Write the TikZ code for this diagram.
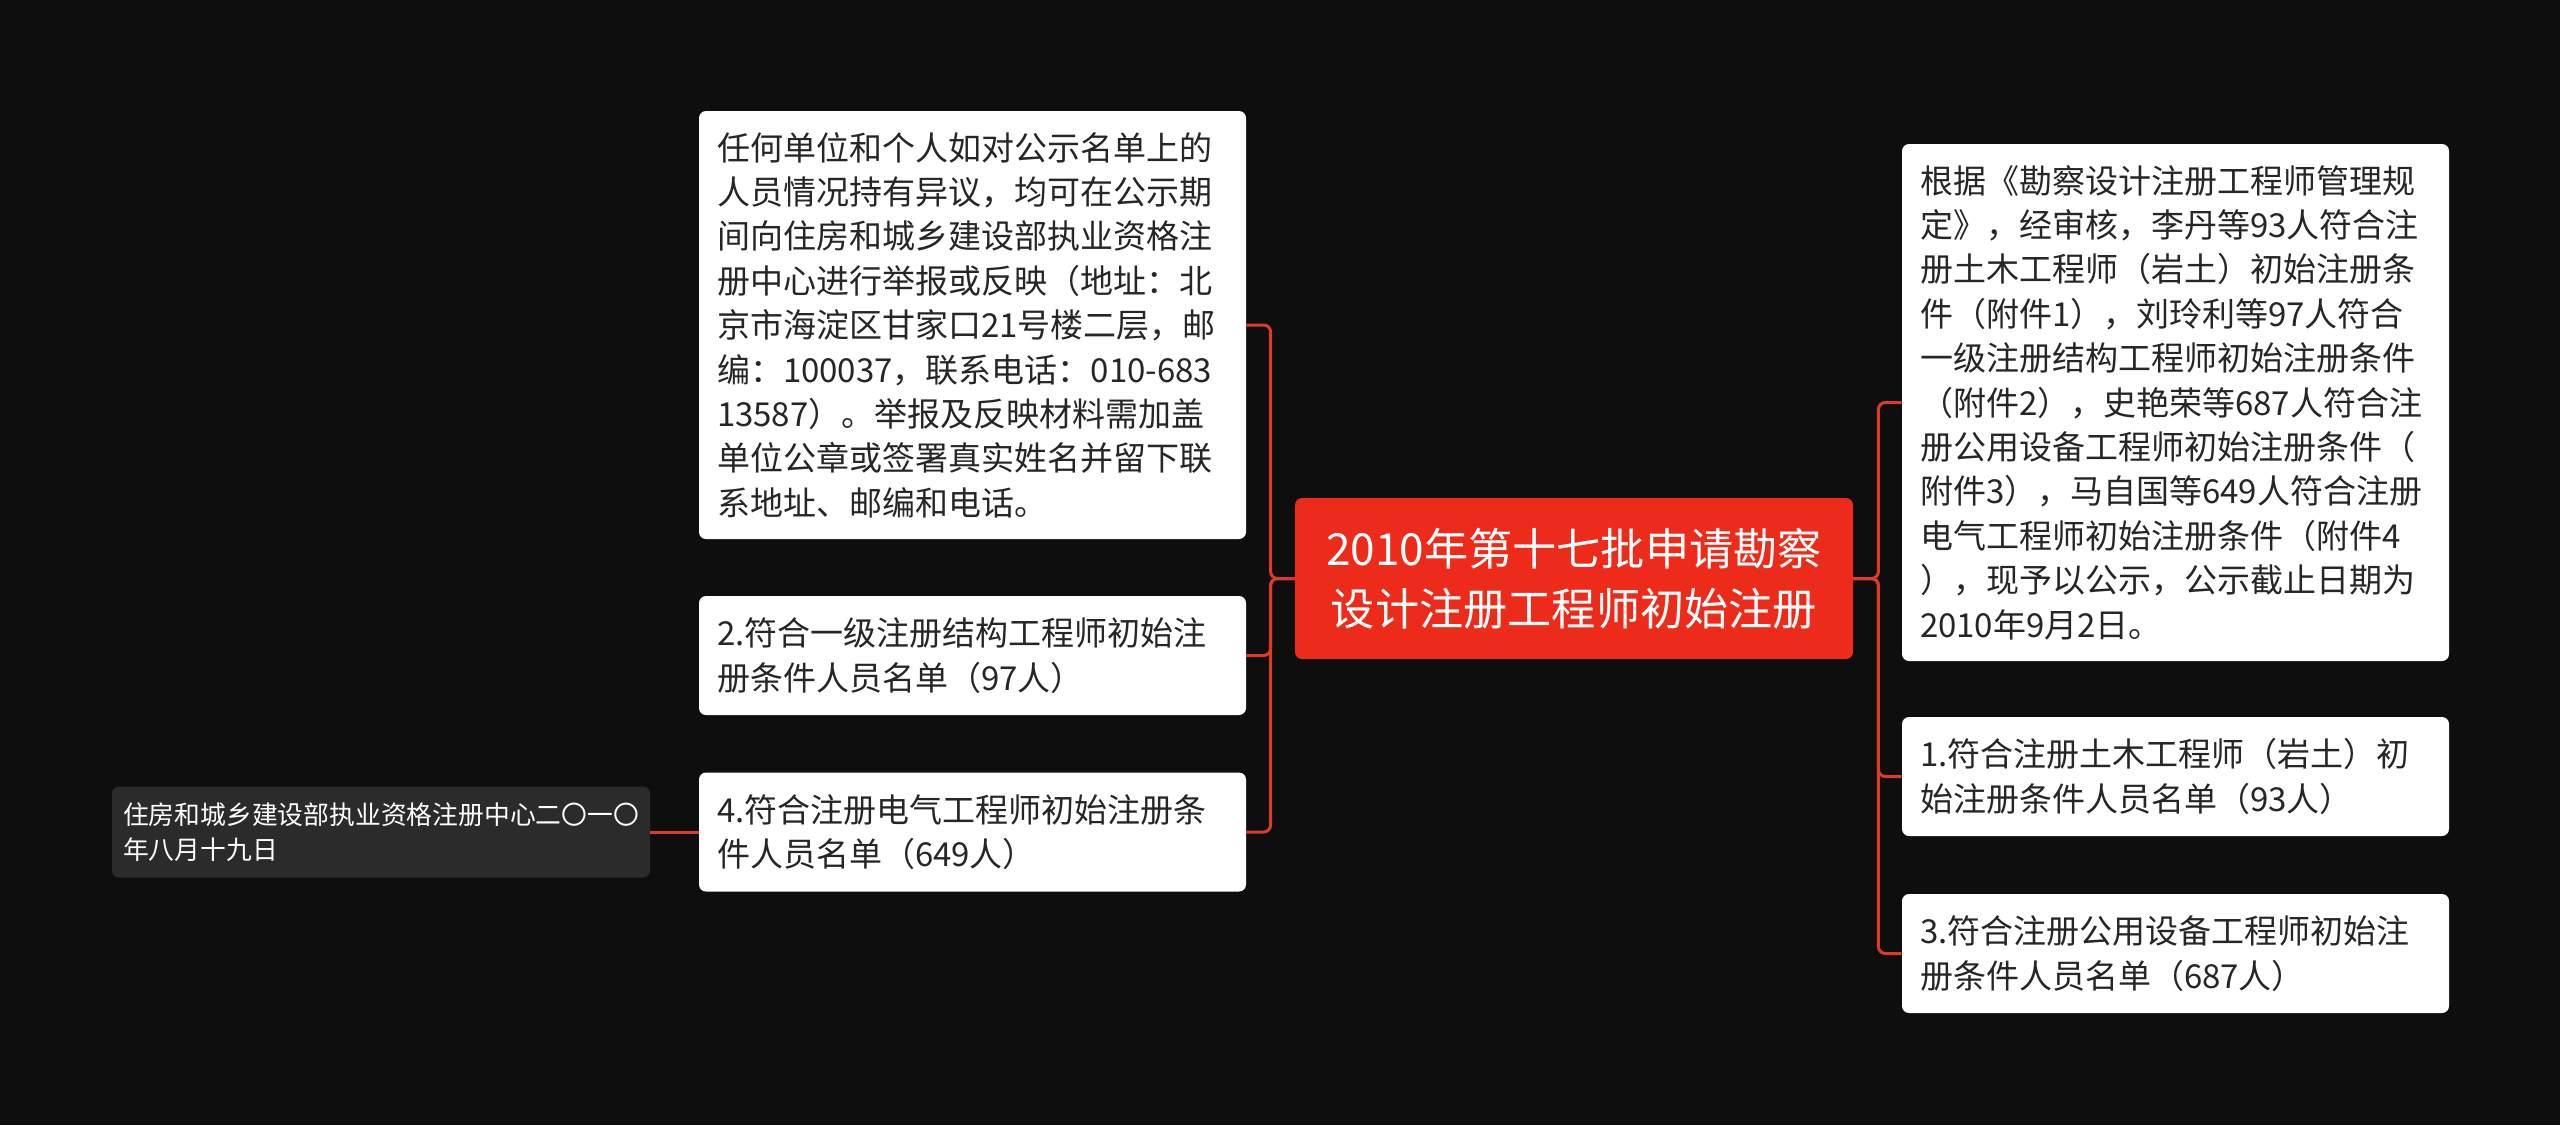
\documentclass[tikz,border=0pt]{standalone}
\usepackage{fontspec}
\setmainfont{Noto Sans CJK SC}
\definecolor{bg}{HTML}{0E0E0E}
\definecolor{hubred}{HTML}{EC2B1B}
\definecolor{linered}{HTML}{DE3A28}
\definecolor{txt}{HTML}{262626}
\definecolor{darkbox}{HTML}{2B2B2B}
\begin{document}
\begin{tikzpicture}[x=0.5pt,y=-0.5pt,
  card/.style={fill=white, rounded corners=3.5pt, text=txt, align=left,
    inner xsep=9pt, inner ysep=0pt, anchor=center, text width=255.5pt,
    minimum width=273.5pt, font=\fontsize{16.5pt}{22.2pt}\selectfont},
  hub/.style={fill=hubred, rounded corners=3.5pt, text=white, align=center,
    inner sep=0pt, anchor=center, minimum width=279pt, minimum height=80.5pt,
    font=\fontsize{22.1pt}{30.2pt}\selectfont},
  note/.style={fill=darkbox, rounded corners=3.5pt, text=white, align=left,
    inner xsep=5.5pt, inner ysep=0pt, anchor=center, text width=258pt,
    minimum width=269pt, minimum height=45.5pt,
    font=\fontsize{12.9pt}{17.5pt}\selectfont},
  conn/.style={draw=linered, line width=1.5pt, rounded corners=3.5pt}]
\fill[bg] (0,0) rectangle (2560,1125);
\useasboundingbox (0,0) rectangle (2560,1125);

\node[hub] (c) at (1574,578.5) {2010年第十七批申请勘察\\设计注册工程师初始注册};

\node[card, minimum height=214pt] (lt) at (972.5,325) {任何单位和个人如对公示名单上的\\人员情况持有异议，均可在公示期\\间向住房和城乡建设部执业资格注\\册中心进行举报或反映（地址：北\\京市海淀区甘家口21号楼二层，邮\\编：100037，联系电话：010-683\\13587）。举报及反映材料需加盖\\单位公章或签署真实姓名并留下联\\系地址、邮编和电话。};
\node[card, minimum height=59.5pt] (lm) at (972.5,655.5) {2.符合一级注册结构工程师初始注\\册条件人员名单（97人）};
\node[card, minimum height=59.5pt] (lb) at (972.5,832) {4.符合注册电气工程师初始注册条\\件人员名单（649人）};
\node[note] (fl) at (381,832) {住房和城乡建设部执业资格注册中心二〇一〇\\年八月十九日};

\node[card, minimum height=258.5pt] (rt) at (2175.5,402.5) {根据《勘察设计注册工程师管理规\\定》，经审核，李丹等93人符合注\\册土木工程师（岩土）初始注册条\\件（附件1），刘玲利等97人符合\\一级注册结构工程师初始注册条件\\（附件2），史艳荣等687人符合注\\册公用设备工程师初始注册条件（\\附件3），马自国等649人符合注册\\电气工程师初始注册条件（附件4\\），现予以公示，公示截止日期为\\2010年9月2日。};
\node[card, minimum height=59.5pt] (rm) at (2175.5,776.5) {1.符合注册土木工程师（岩土）初\\始注册条件人员名单（93人）};
\node[card, minimum height=59.5pt] (rb) at (2175.5,953.5) {3.符合注册公用设备工程师初始注\\册条件人员名单（687人）};

\draw[conn] (c.west) -- ++(-24,0) |- (lt.east);
\draw[conn] (c.west) -- ++(-24,0) |- (lm.east);
\draw[conn] (c.west) -- ++(-24,0) |- (lb.east);
\draw[conn] (c.east) -- ++(25,0) |- (rt.east -| rt.west);
\draw[conn] (c.east) -- ++(25,0) |- (rm.west);
\draw[conn] (c.east) -- ++(25,0) |- (rb.west);
\draw[conn] (fl.east) -- (lb.west);
\end{tikzpicture}
\end{document}
